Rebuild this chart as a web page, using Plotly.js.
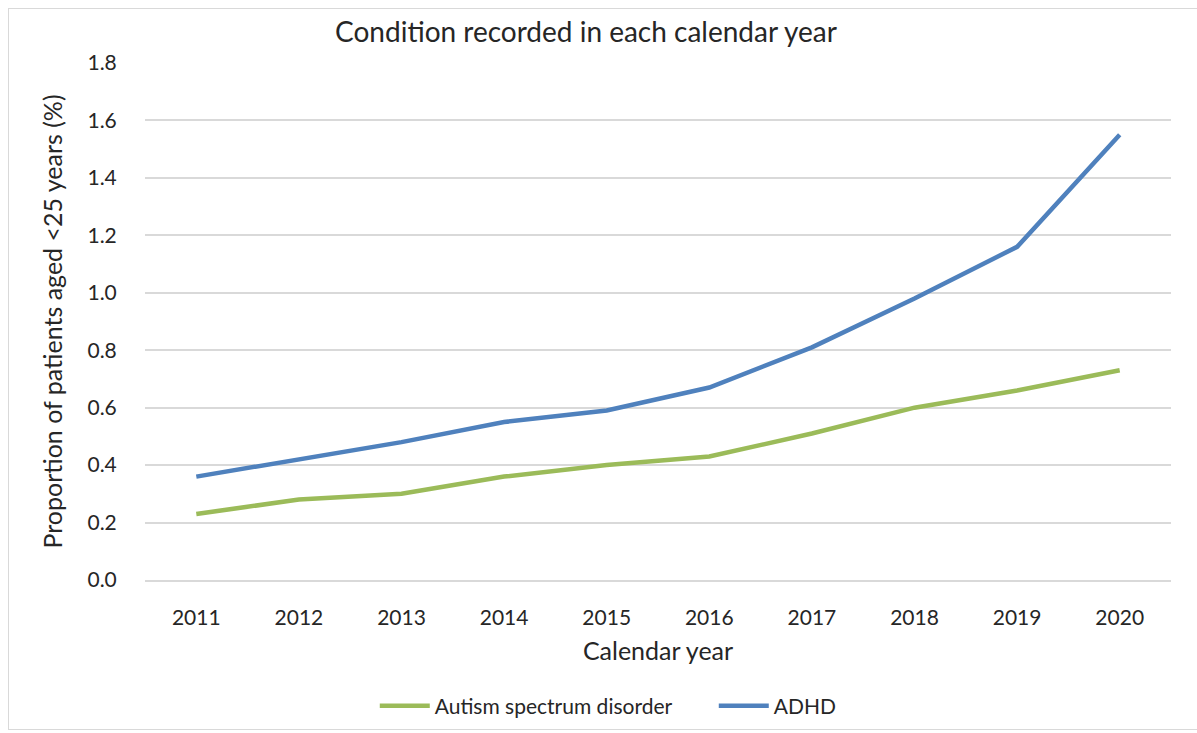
<!DOCTYPE html>
<html>
<head>
<meta charset="utf-8">
<script src="https://cdn.plot.ly/plotly-3.0.1.min.js"></script>
<style>
html,body{margin:0;padding:0;background:#fff;overflow:hidden;}
#wrap{position:relative;width:1197px;height:733px;overflow:hidden;}
#chart{width:1197px;height:733px;}
#frame{position:absolute;left:8px;top:8px;width:1200px;height:722px;border:1.5px solid #d9d9d9;pointer-events:none;box-sizing:border-box;}
</style>
</head>
<body>
<div id="wrap"><div id="chart"></div><div id="frame"></div></div>
<script>
const years = ["2011","2012","2013","2014","2015","2016","2017","2018","2019","2020"];
const autism = [0.23,0.28,0.30,0.36,0.40,0.43,0.51,0.60,0.66,0.73];
const adhd = [0.36,0.42,0.48,0.55,0.59,0.67,0.81,0.98,1.16,1.55];
const yTicks = [0,0.2,0.4,0.6,0.8,1.0,1.2,1.4,1.6,1.8];
const yTickText = ["0.0","0.2","0.4","0.6","0.8","1.0","1.2","1.4","1.6","1.8"];

const font = "Lato, 'Open Sans', sans-serif";
const traces = [
  {x: years, y: autism, type:'scatter', mode:'lines', name:'Autism spectrum disorder',
   line:{color:'#9bbb59', width:4.5}},
  {x: years, y: adhd, type:'scatter', mode:'lines', name:'ADHD',
   line:{color:'#4f81bd', width:4.5}}
];
const layout = {
  width:1197, height:733,
  margin:{l:145, r:26, t:63, b:153, autoexpand:false},
  paper_bgcolor:'#fff', plot_bgcolor:'#fff',
  font:{family:font, color:'#262626', size:20},
  title:{text:'Condition recorded in each calendar year', font:{size:28, color:'#262626', family:font},
         x:586/1197, xref:'container', xanchor:'center', y:1-32/733, yref:'container', yanchor:'middle'},
  xaxis:{type:'category', range:[-0.5,9.5], showgrid:false, zeroline:false,
         showline:true, linecolor:'#d9d9d9', linewidth:1.5,
         ticks:'outside', ticklen:18, tickcolor:'rgba(0,0,0,0)',
         tickfont:{size:21},
         title:{text:'Calendar year', font:{size:25}, standoff:15}},
  yaxis:{range:[0,1.8], tickvals:yTicks, ticktext:yTickText, showgrid:true, gridcolor:'#d9d9d9', gridwidth:1.5,
         zeroline:false, showline:false,
         ticks:'outside', ticklen:23, tickcolor:'rgba(0,0,0,0)',
         tickfont:{size:21},
         title:{text:'Proportion of patients aged <25 years (%)', font:{size:25}, standoff:17}},
  showlegend:true,
  legend:{orientation:'h', x:(375-145)/1027, xanchor:'left', y:-0.2437, yanchor:'middle',
          font:{size:21}, itemwidth:50, entrywidth:274, entrywidthmode:'pixels',
          tracegroupgap:0, bgcolor:'rgba(0,0,0,0)'}
};
Plotly.newPlot('chart', traces, layout, {displayModeBar:false});
</script>
</body>
</html>
